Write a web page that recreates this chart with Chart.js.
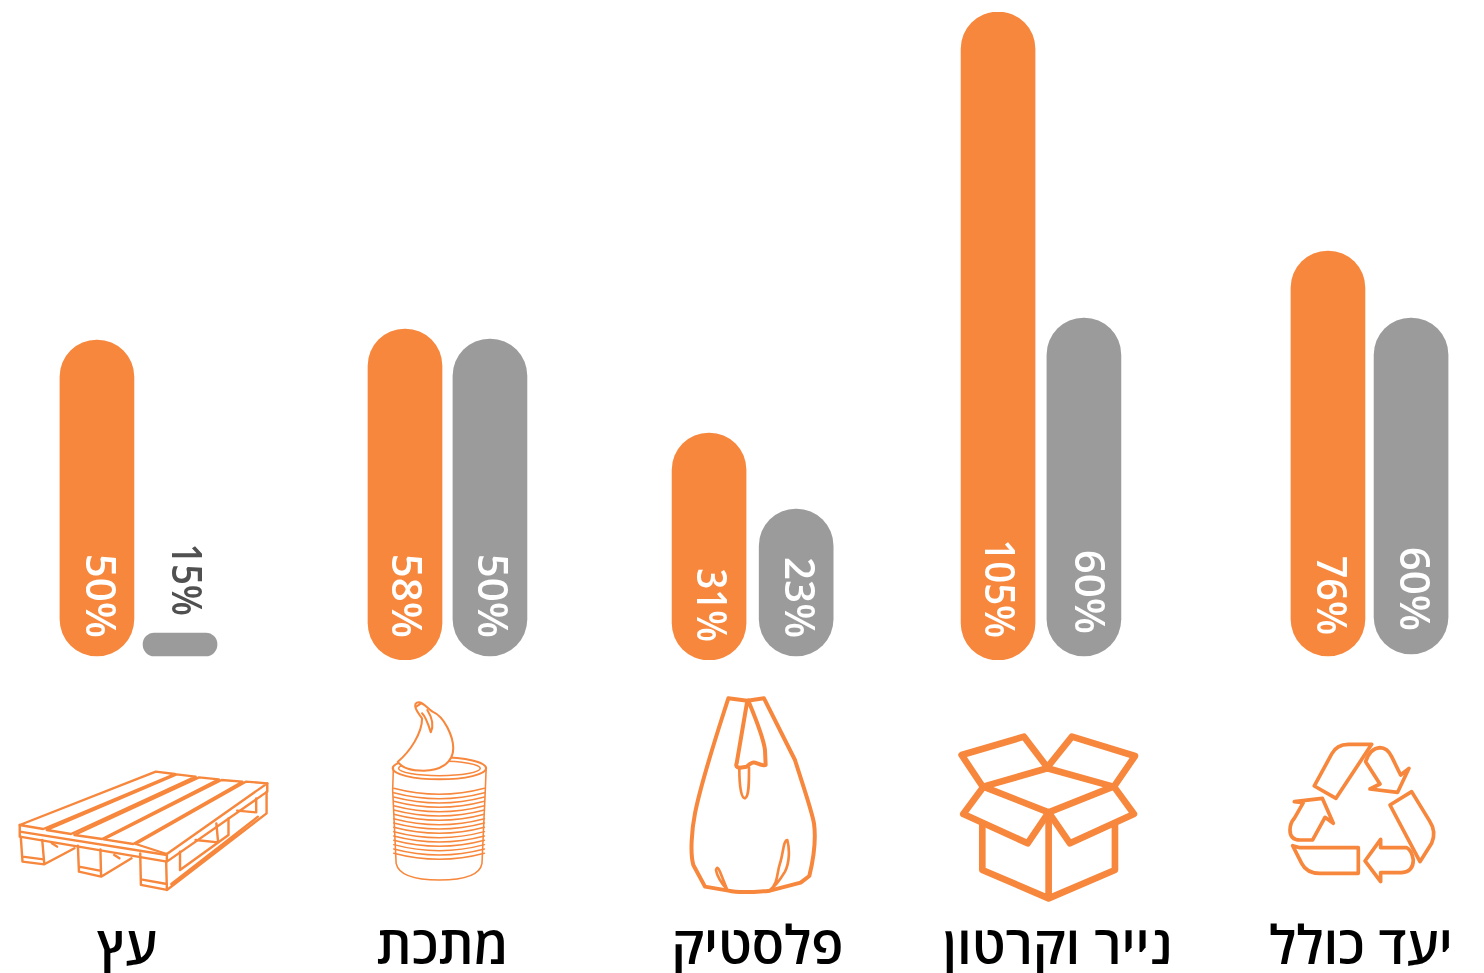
<!DOCTYPE html>
<html lang="he">
<head>
<meta charset="utf-8">
<title>יעדי מיחזור</title>
<script src="https://cdn.jsdelivr.net/npm/chart.js@4"></script>
<style>
    html, body { margin: 0; padding: 0; background: #fff; overflow: hidden; }
    #wrap { position: relative; width: 1484px; height: 973px; }
    #wrap canvas { position: absolute; left: 0; top: 0; }
    #icons { position: absolute; left: 0; top: 0; pointer-events: none; }
    #icons * { fill: none; stroke: #f7873c; stroke-linejoin: round; stroke-linecap: round; }
</style>
</head>
<body>
<div id="wrap">
    <canvas id="chart" width="1484" height="973"></canvas>
    <svg id="icons" width="1484" height="973" viewBox="0 0 1484 973">
        <!-- pallet -->
        <g transform="translate(0,680) scale(0.3462,0.3333)" stroke-width="7">
            <path d="M57,435 L450,275 L505,282 L125,447 L57,435 M135,450 L510,283 L565,290 L205,462 L135,450 M215,465 L575,292 L632,298 L295,477 L215,465 M300,478 L640,300 L700,305 L385,492 L300,478 M392,492 L710,305 L772,310 L482,522 L392,492"/>
            <path d="M57,435 L57,470 L482,545 L482,522 M57,455 L482,525 M482,545 L772,335 L772,310"/>
            <path d="M60,470 L65,545 L128,553 L122,480 M65,530 L126,538 M128,553 L215,505 M150,490 L165,500"/>
            <path d="M225,497 L228,575 L292,590 L290,508 M228,560 L292,573 M292,590 L380,535 M330,525 L345,535"/>
            <path d="M405,520 L407,615 L482,630 L480,545 M407,598 L482,612 M482,630 L770,400 L770,335 M495,612 L745,410 M520,515 L520,570 M520,570 L660,465 M625,430 L630,487 L565,480 M660,415 L660,465 M740,355 L740,397 L685,392"/>
        </g>
        <!-- can -->
        <g transform="translate(-2,680) scale(0.3462,0.3333)" stroke-width="4.5">
            <path d="M1142,265 L1140,330 L1150,550 Q1160,600 1275,600 Q1390,600 1398,550 L1408,320 L1410,265"/>
            <ellipse cx="1275" cy="265" rx="135" ry="33" stroke-width="6"/>
            <ellipse cx="1275" cy="265" rx="118" ry="22"/>
            <g id="canRibs"></g>
            <path style="fill:#fff" stroke-width="6" d="M1155,245 C1190,215 1225,160 1225,115 C1210,95 1198,75 1210,68 C1225,62 1240,85 1255,95 C1290,110 1315,170 1315,205 C1315,250 1275,272 1230,272 C1190,272 1165,262 1155,245 Z"/>
            <path stroke-width="6" d="M1208,80 L1222,70 M1225,100 C1235,110 1245,140 1250,157 C1258,140 1255,115 1240,90"/>
        </g>
        <!-- bag -->
        <g transform="translate(640,680) scale(0.3333)" stroke-width="12">
            <path d="M265,55 L322,62 L372,55 L465,240 C490,320 515,390 522,430 C530,490 515,560 508,588 L482,608 L390,632 C350,636 290,638 265,632 L195,620 L160,555 C150,520 155,450 165,400 C185,300 225,180 265,55 Z"/>
            <path d="M322,62 L290,250 Q285,262 300,263 L320,260 Q335,245 345,248 Q370,258 377,255 L375,210 C370,170 345,110 325,62"/>
            <path d="M298,265 C298,310 302,355 315,355 C328,350 327,300 327,262" stroke-width="8"/>
            <path d="M262,630 L240,575 Q232,555 228,570 Q232,595 262,630 M390,630 C415,610 410,580 420,550 C430,520 430,480 442,480 C450,510 448,550 435,575 C420,600 405,620 390,630" stroke-width="8"/>
        </g>
        <!-- box -->
        <g transform="translate(640,680) scale(0.3333)" stroke-width="20">
            <path d="M1027,430 L1027,570 L1226,655 L1425,570 L1425,430 M1226,400 L1226,655"/>
            <path d="M1030,320 L1222,265 L1420,320 L1226,397 Z"/>
            <path d="M1025,315 L965,225 L1152,170 L1222,262 L1296,170 L1485,228 L1422,320"/>
            <path d="M1025,328 L970,402 L1163,490 L1226,397 L1290,490 L1482,402 L1422,320"/>
        </g>
        <!-- recycle -->
        <g transform="translate(1160,680) scale(0.3333)" stroke-width="11" style="stroke-linejoin:miter">
            <path d="M635,193 L565,193 Q530,193 515,222 L463,318 L528,355 Z"/>
            <path d="M660,312 L617,245 Q630,205 660,203 Q682,203 695,230 L722,285 L747,265 L713,337 L630,327 Z"/>
            <path d="M755,335 L690,375 L780,545 L815,490 Q830,455 810,425 Z"/>
            <path d="M740,503 L662,503 L662,478 L615,543 L662,605 L662,578 L725,578 Q760,575 760,540 Q755,510 740,503 Z"/>
            <path d="M398,497 L420,503 L595,503 L595,580 L480,580 Q440,580 425,550 Z"/>
            <path d="M403,365 L487,355 L520,430 L495,412 L458,480 L420,480 Q390,480 390,450 Q390,430 403,415 L430,368 Z"/>
        </g>
    </svg>
</div>
<script>
// Categories, right hand side of the Hebrew page is the last entry here
const categories = ['עץ', 'מתכת', 'פלסטיק', 'נייר וקרטון', 'יעד כולל'];

// Printed labels. The source graphic is not drawn to scale, so these differ from the bar heights
const orangeLabels = ['50%', '58%', '31%', '105%', '76%'];
const grayLabels = ['15%', '50%', '23%', '60%', '60%'];

// Bar tops and bottoms, in units where the tallest bar is 105
const orangeTops = [51.85, 53.63, 36.78, 105, 66.27];
const orangeBottoms = [0.65, 0, 0, 0, 0.65];
const grayTops = [4.37, 52.01, 24.47, 55.42, 55.42];
const grayBottoms = [0.65, 0.65, 0.65, 0.65, 0.97];

// Slots on the x scale: groups are unevenly spaced in the source
const orangeSlots = [-0.135, 0.866, 1.854, 2.793, 3.865];
const graySlots = [0.135, 1.142, 2.137, 3.072, 4.135];
const categorySlots = [-0.037, 0.988, 2.011, 2.986, 3.972];

// Percent label fitting: the source font has a narrow 1, Open Sans does not
const orangeLabelStyle = {
    stretch: [1, 1, 0.875, 0.91, 0.94],
    gap: [18, 22, 18, 22, 21],
    shift: [0, -2, -1, -2, 0]
};
const grayLabelStyle = {
    stretch: [0.86, 1, 0.96, 1, 1],
    gap: [17, 18, 18, 22, 23],
    shift: [3, -1, 0, 2, 0]
};

const ORANGE = '#f7873c';
const GRAY = '#9b9b9b';

// Can ribs
const ribs = document.getElementById('canRibs');
let ribMarkup = '';
for (let y = 325; y <= 520; y += 13) {
    ribMarkup += `<path d="M1143,${y} Q1275,${y + 36} 1405,${y}"/>`;
}
ribs.innerHTML = ribMarkup;

function toPoints(slots, bottoms, tops) {
    return slots.map((x, i) => ({ x: x, y: [bottoms[i], tops[i]] }));
}

// Rotated percent labels inside the bars
const barLabels = {
    id: 'barLabels',
    afterDatasetsDraw(chart) {
        const ctx = chart.ctx;
        chart.data.datasets.forEach((dataset, d) => {
            const meta = chart.getDatasetMeta(d);
            const style = dataset.labelStyle;
            meta.data.forEach((bar, i) => {
                // the 15% bar is too short to hold its label, so it sits above the bar
                const isSmall = dataset.labels[i] === '15%';
                const end = (isSmall ? bar.y : bar.base) - style.gap[i];
                ctx.save();
                ctx.translate(bar.x + 1 + style.shift[i], end);
                ctx.rotate(Math.PI / 2);
                ctx.scale(style.stretch[i], 1);
                ctx.font = '600 42px "Open Sans"';
                ctx.fillStyle = isSmall ? '#505050' : '#ffffff';
                ctx.textAlign = 'right';
                ctx.textBaseline = 'middle';
                ctx.fillText(dataset.labels[i], 0, 0);
                ctx.restore();
            });
        });
    }
};

new Chart(document.getElementById('chart'), {
    type: 'bar',
    data: {
        datasets: [
            {
                data: toPoints(orangeSlots, orangeBottoms, orangeTops),
                backgroundColor: ORANGE,
                labels: orangeLabels,
                labelStyle: orangeLabelStyle
            },
            {
                data: toPoints(graySlots, grayBottoms, grayTops),
                backgroundColor: GRAY,
                labels: grayLabels,
                labelStyle: grayLabelStyle
            }
        ]
    },
    options: {
        responsive: false,
        animation: false,
        layout: { padding: { top: 12, left: 0, right: 0, bottom: 0 } },
        grouped: false,
        barThickness: 74,
        borderRadius: 37,
        borderSkipped: false,
        plugins: {
            legend: { display: false },
            tooltip: { enabled: false }
        },
        scales: {
            x: {
                type: 'linear',
                offset: false,
                min: -0.45,
                max: 4.372,
                grid: { display: false },
                border: { display: false },
                afterBuildTicks(scale) {
                    scale.ticks = categorySlots.map(v => ({ value: v }));
                },
                afterFit(scale) {
                    // tick padding also widens the side padding, which would squeeze the bars
                    scale.height = 313;
                    scale.paddingLeft = 0;
                    scale.paddingRight = 0;
                },
                ticks: {
                    autoSkip: false,
                    maxRotation: 0,
                    padding: 249,
                    color: '#000000',
                    font: { family: '"Open Sans"', size: 53, weight: '600' },
                    callback: (value, index) => categories[index]
                }
            },
            y: {
                display: false,
                min: 0,
                max: 105
            }
        }
    },
    plugins: [barLabels]
});
</script>
</body>
</html>
